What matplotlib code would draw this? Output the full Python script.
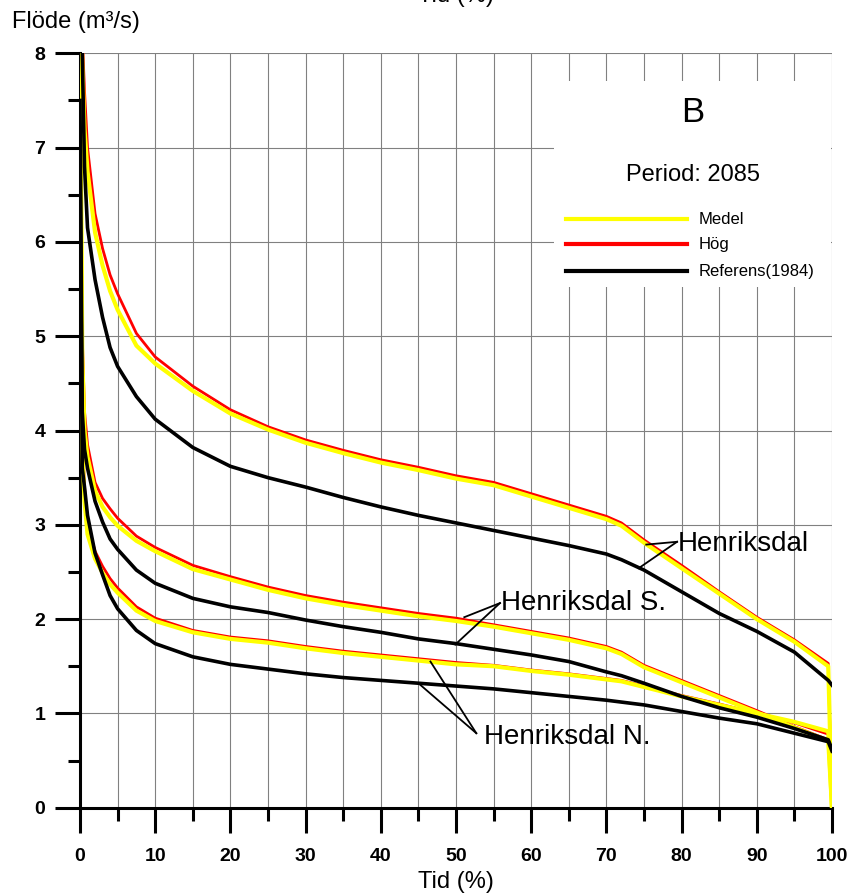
import matplotlib
matplotlib.use("Agg")
import matplotlib.pyplot as plt
from matplotlib.patches import Rectangle
from matplotlib.ticker import MultipleLocator

plt.rcParams['font.family'] = ['Liberation Sans', 'DejaVu Sans']

# varaktighet (% av tiden) och flöden (m3/s) per station och scenario
tid = [0, 0.3, 0.6, 1, 2, 3, 4, 5, 7.5, 10, 15, 20, 25, 30, 35, 40, 45, 50,
       55, 60, 65, 70, 72, 75, 80, 85, 90, 95, 99.5, 100]

henriksdal_hog = [9.0, 8.2, 7.6, 7.0, 6.3, 5.93, 5.65, 5.45, 5.03, 4.78, 4.47, 4.22,
                  4.04, 3.90, 3.79, 3.69, 3.61, 3.52, 3.45, 3.33, 3.21, 3.09, 3.02,
                  2.84, 2.57, 2.29, 2.02, 1.78, 1.53, 0.0]
henriksdal_medel = [9.0, 7.9, 7.2, 6.75, 6.1, 5.75, 5.48, 5.28, 4.90, 4.71, 4.42, 4.18,
                    4.01, 3.87, 3.76, 3.66, 3.58, 3.49, 3.42, 3.30, 3.18, 3.06, 2.99,
                    2.81, 2.54, 2.27, 2.00, 1.76, 1.50, 0.0]
henriksdal_ref = [9.0, 8.0, 6.8, 6.15, 5.6, 5.2, 4.88, 4.68, 4.36, 4.12, 3.82, 3.62,
                  3.50, 3.40, 3.29, 3.19, 3.10, 3.02, 2.94, 2.86, 2.78, 2.69, 2.63,
                  2.52, 2.29, 2.06, 1.87, 1.65, 1.35, 1.30]

syd_hog = [8.5, 5.0, 4.2, 3.85, 3.45, 3.28, 3.17, 3.07, 2.88, 2.76, 2.57, 2.45,
           2.34, 2.25, 2.18, 2.12, 2.06, 2.01, 1.94, 1.87, 1.80, 1.71, 1.65,
           1.51, 1.35, 1.19, 1.03, 0.86, 0.72, 0.0]
syd_medel = [8.5, 4.8, 4.0, 3.72, 3.36, 3.19, 3.08, 2.99, 2.83, 2.72, 2.53, 2.42,
             2.31, 2.22, 2.15, 2.09, 2.03, 1.98, 1.92, 1.85, 1.78, 1.69, 1.63,
             1.49, 1.33, 1.17, 1.01, 0.85, 0.71, 0.0]
syd_ref = [7.5, 4.2, 3.8, 3.6, 3.25, 3.03, 2.85, 2.74, 2.52, 2.38, 2.22, 2.13,
           2.07, 1.99, 1.92, 1.86, 1.79, 1.74, 1.68, 1.62, 1.55, 1.44, 1.40,
           1.32, 1.18, 1.06, 0.96, 0.84, 0.72, 0.62]

norr_hog = [8.0, 4.0, 3.4, 3.0, 2.72, 2.56, 2.43, 2.33, 2.13, 2.01, 1.88, 1.81,
            1.77, 1.71, 1.66, 1.62, 1.58, 1.54, 1.51, 1.46, 1.42, 1.37, 1.35,
            1.29, 1.19, 1.10, 1.00, 0.90, 0.78, 0.0]
norr_medel = [8.0, 3.8, 3.25, 2.9, 2.64, 2.49, 2.37, 2.28, 2.09, 1.98, 1.86, 1.79,
              1.75, 1.69, 1.64, 1.60, 1.56, 1.52, 1.50, 1.45, 1.41, 1.36, 1.34,
              1.28, 1.18, 1.09, 1.00, 0.91, 0.81, 0.0]
norr_ref = [7.0, 3.6, 3.4, 3.1, 2.7, 2.47, 2.25, 2.11, 1.88, 1.74, 1.60, 1.52,
            1.47, 1.42, 1.38, 1.35, 1.32, 1.29, 1.26, 1.22, 1.18, 1.14, 1.12,
            1.09, 1.02, 0.95, 0.89, 0.79, 0.70, 0.60]

fig = plt.figure(figsize=(8.53, 8.96), dpi=100)
ax = fig.add_axes([80/853, 1 - 807.7/896, 752/853, 754.4/896])

for hog, medel, ref in [(henriksdal_hog, henriksdal_medel, henriksdal_ref),
                        (syd_hog, syd_medel, syd_ref),
                        (norr_hog, norr_medel, norr_ref)]:
    ax.plot(tid, hog, color='#ff0000', lw=2.0, zorder=3)
    ax.plot(tid, medel, color='#ffff00', lw=3.0, zorder=4)
    ax.plot(tid, ref, color='black', lw=2.6, zorder=5)

ax.set_xlim(0, 100)
ax.set_ylim(0, 8)
ax.xaxis.set_major_locator(MultipleLocator(10))
ax.xaxis.set_minor_locator(MultipleLocator(5))
ax.yaxis.set_major_locator(MultipleLocator(1))
ax.yaxis.set_minor_locator(MultipleLocator(0.5))
ax.set_axisbelow(True)
ax.grid(which='both', axis='x', color='#808080', lw=0.8)
ax.grid(which='major', axis='y', color='#808080', lw=0.8)

for side in ['top', 'right']:
    ax.spines[side].set_visible(False)
for side in ['left', 'bottom']:
    ax.spines[side].set_linewidth(2.2)

ax.tick_params(which='major', direction='out', length=18, width=2.2, labelsize=14)
ax.tick_params(which='minor', direction='out', length=9, width=2.2)
ax.tick_params(axis='x', which='major', pad=11)
ax.tick_params(axis='y', which='major', pad=7)
for lab in ax.get_xticklabels() + ax.get_yticklabels():
    lab.set_fontweight('bold')

# vit ruta for legenden
ax.add_patch(Rectangle((63.0, 5.52), 36.85, 2.19, facecolor='white',
                       edgecolor='none', zorder=1))
ax.text(0.815, 0.921, 'B', transform=ax.transAxes, ha='center', va='center',
        fontsize=25, zorder=6)
ax.text(0.815, 0.839, 'Period: 2085', transform=ax.transAxes, ha='center',
        va='center', fontsize=17, zorder=6)
for yy, col, namn in [(0.780, '#ffff00', 'Medel'), (0.747, '#ff0000', 'Hög'),
                      (0.711, 'black', 'Referens(1984)')]:
    ax.plot([0.646, 0.807], [yy, yy], color=col, lw=3.0,
            transform=ax.transAxes, zorder=6)
    ax.text(0.822, yy, namn, transform=ax.transAxes, ha='left', va='center',
            fontsize=12, zorder=6)

# stationsnamn med hänvisningslinjer
ax.text(79.5, 2.80, 'Henriksdal', fontsize=20, ha='left', va='center', zorder=6)
ax.plot([79.4, 75.3], [2.82, 2.79], color='black', lw=1.3, zorder=6)
ax.plot([79.4, 74.3], [2.82, 2.54], color='black', lw=1.3, zorder=6)

ax.text(56.0, 2.17, 'Henriksdal S.', fontsize=20, ha='left', va='center', zorder=6)
ax.plot([55.85, 51.1], [2.17, 2.02], color='black', lw=1.3, zorder=6)
ax.plot([55.85, 49.9], [2.17, 1.73], color='black', lw=1.3, zorder=6)

ax.text(53.7, 0.75, 'Henriksdal N.', fontsize=20, ha='left', va='center', zorder=6)
ax.plot([52.7, 46.6], [0.79, 1.55], color='black', lw=1.3, zorder=6)
ax.plot([52.7, 45.0], [0.79, 1.32], color='black', lw=1.3, zorder=6)

fig.text(12/853, 1 - 22/896, 'Flöde (m³/s)', fontsize=17, ha='left', va='center')
fig.text(456/853, 1 - 882/896, 'Tid (%)', fontsize=17, ha='center', va='center')
fig.text(456/853, 1 - 2/896, 'Tid (%)', fontsize=17, ha='center', va='baseline')

fig.savefig('out.png', dpi=100)
